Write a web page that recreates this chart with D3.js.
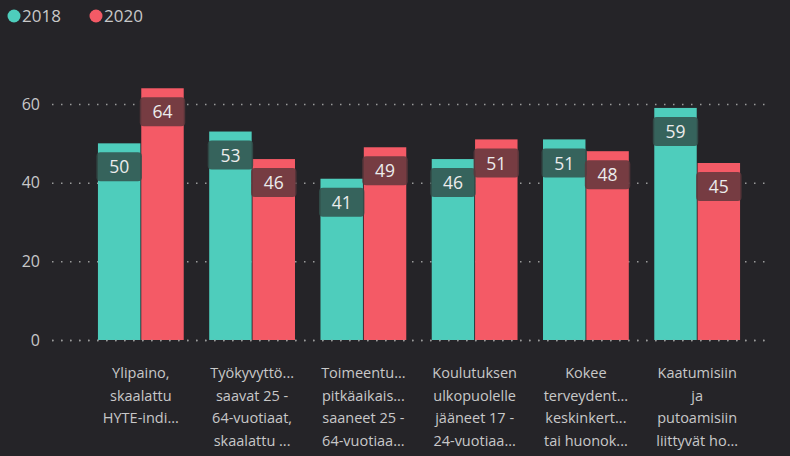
<!DOCTYPE html>
<html>
<head>
<meta charset="utf-8">
<script src="https://cdn.jsdelivr.net/npm/d3@7"></script>
<style>
  html, body { margin: 0; padding: 0; background: #252428; }
  svg { display: block; font-family: "Segoe UI", "Open Sans", "DejaVu Sans", sans-serif; }
</style>
</head>
<body>
<svg width="790" height="456"></svg>
<script>
const categories = [
  ['Ylipaino,', 'skaalattu', 'HYTE-indi...'],
  ['Työkyvyttö...', 'saavat 25 -', '64-vuotiaat,', 'skaalattu ...'],
  ['Toimeentu...', 'pitkäaikais...', 'saaneet 25 -', '64-vuotiaa...'],
  ['Koulutuksen', 'ulkopuolelle', 'jääneet 17 -', '24-vuotiaa...'],
  ['Kokee', 'terveydent...', 'keskinkert...', 'tai huonok...'],
  ['Kaatumisiin', 'ja', 'putoamisiin', 'liittyvät ho...']
];
const seriesNames = ['2018', '2020'];
const values2018 = [50, 53, 41, 46, 51, 59];
const values2020 = [64, 46, 49, 51, 48, 45];
const yTicks = [0, 20, 40, 60];

const colors = ['#4ecdbc', '#f45a66'];
const boxColors = ['rgba(50,80,75,0.85)', 'rgba(95,55,60,0.85)'];

const svg = d3.select('svg');

const x = d3.scaleBand()
  .domain(d3.range(categories.length))
  .range([64, 774])
  .paddingInner(0.229)
  .paddingOuter(0.305);

const x1 = d3.scaleBand()
  .domain(seriesNames)
  .range([0, x.bandwidth()])
  .paddingInner(0.02);

const y = d3.scaleLinear()
  .domain([0, 60])
  .range([340, 104]);

// dotted gridlines
svg.append('g').attr('class', 'grid')
  .selectAll('line')
  .data(yTicks)
  .join('line')
  .attr('x1', 52)
  .attr('x2', 772)
  .attr('y1', d => y(d) + 0.5)
  .attr('y2', d => y(d) + 0.5)
  .attr('stroke', '#9a9a9a')
  .attr('stroke-width', 1.5)
  .attr('stroke-dasharray', '1.5,7.5');

// y axis labels
svg.append('g')
  .selectAll('text')
  .data(yTicks)
  .join('text')
  .attr('x', 40)
  .attr('y', d => y(d))
  .attr('dy', '0.35em')
  .attr('text-anchor', 'end')
  .attr('fill', '#c8c8c8')
  .attr('font-size', 16)
  .text(d => d);

const series = [values2018, values2020];
const groups = svg.append('g')
  .selectAll('g')
  .data(categories)
  .join('g')
  .attr('transform', (d, i) => 'translate(' + x(i) + ',0)');

seriesNames.forEach((name, si) => {
  groups.append('rect')
    .attr('x', x1(name))
    .attr('y', (d, i) => y(series[si][i]))
    .attr('width', x1.bandwidth())
    .attr('height', (d, i) => y(0) - y(series[si][i]))
    .attr('fill', colors[si]);
});

// bottom dotted line drawn over bars
svg.append('line')
  .attr('x1', 52).attr('x2', 772)
  .attr('y1', y(0) + 0.5).attr('y2', y(0) + 0.5)
  .attr('stroke', '#9a9a9a')
  .attr('stroke-width', 1.5)
  .attr('stroke-dasharray', '1.5,7.5');

// data labels
seriesNames.forEach((name, si) => {
  groups.append('rect')
    .attr('x', x1(name) - 1.5)
    .attr('y', (d, i) => y(series[si][i]) + 9)
    .attr('width', x1.bandwidth() + 3)
    .attr('height', 29)
    .attr('rx', 4)
    .attr('fill', boxColors[si]);
  groups.append('text')
    .attr('x', x1(name) + x1.bandwidth() / 2)
    .attr('y', (d, i) => y(series[si][i]) + 24)
    .attr('dy', '0.35em')
    .attr('text-anchor', 'middle')
    .attr('fill', '#ececec')
    .attr('font-size', 17.5)
    .text((d, i) => series[si][i]);
});

// x labels
groups.append('text')
  .attr('text-anchor', 'middle')
  .attr('fill', '#c8c8c8')
  .attr('font-size', 14.5)
  .selectAll('tspan')
  .data(d => d)
  .join('tspan')
  .attr('x', x.bandwidth() / 2)
  .attr('y', (d, i) => 378 + i * 22.5)
  .text(d => d);

// legend
const legend = svg.append('g')
  .selectAll('g')
  .data(seriesNames)
  .join('g')
  .attr('transform', (d, i) => 'translate(' + (14 + i * 82) + ',16)');

legend.append('circle')
  .attr('r', 6.5)
  .attr('fill', (d, i) => colors[i]);

legend.append('text')
  .attr('x', 8)
  .attr('dy', '0.35em')
  .attr('fill', '#c8c8c8')
  .attr('font-size', 17)
  .text(d => d);
</script>
</body>
</html>
